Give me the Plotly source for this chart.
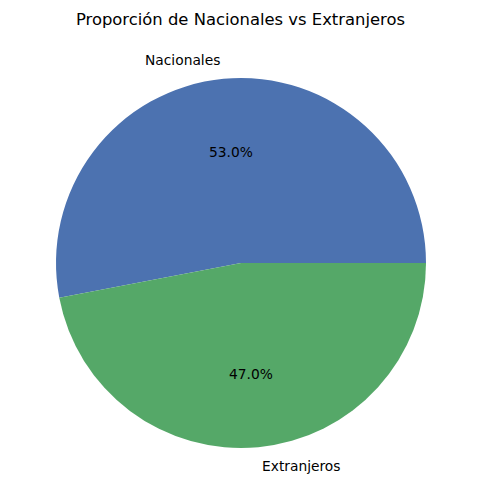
import numpy as np
import plotly.graph_objects as go

categorias = ["Nacionales", "Extranjeros"]
valores = [53.0, 47.0]
colores = ["#4c72b0", "#55a868"]

total = sum(valores)
fracs = [v / total for v in valores]

# matplotlib starts at 3 o'clock going counterclockwise; plotly's first slice
# in clockwise mode starts at `rotation`, so shift it back by the first slice
fig = go.Figure()
fig.add_trace(go.Pie(labels=categorias, values=valores, sort=False,
                     direction="clockwise", rotation=90 - 360 * fracs[0],
                     marker=dict(colors=colores, line=dict(width=0)),
                     textinfo="none", hoverinfo="skip", showlegend=False))

# matplotlib-style labels: names at 1.1 r, percents at 0.6 r
start = 0.0
for lab, f in zip(categorias, fracs):
    mid = np.deg2rad(start + f * 180)
    start += f * 360
    cx, cy = np.cos(mid), np.sin(mid)
    fig.add_annotation(x=0.5 + 0.55 * cx, y=0.5 + 0.55 * cy, xref="paper", yref="paper",
                       text=lab, showarrow=False, xanchor="right" if cx < 0 else "left",
                       yanchor="middle", font=dict(size=13.8, color="black"))
    fig.add_annotation(x=0.5 + 0.3 * cx, y=0.5 + 0.3 * cy, xref="paper", yref="paper",
                       text=f"{f * 100:.1f}%", showarrow=False, xanchor="center",
                       yanchor="middle", font=dict(size=13.8, color="black"))

fig.update_layout(width=481, height=504,
                  margin=dict(l=56, r=55, t=78, b=56),
                  paper_bgcolor="white", plot_bgcolor="white",
                  font=dict(family="DejaVu Sans"),
                  title=dict(text="Proporción de Nacionales vs Extranjeros", x=0.5, xanchor="center",
                             y=1 - 19 / 504, yanchor="middle", font=dict(size=16.4, color="black")))
fig.write_html("out.html", config={"displayModeBar": False},
               post_script="document.body.style.margin='0';")
